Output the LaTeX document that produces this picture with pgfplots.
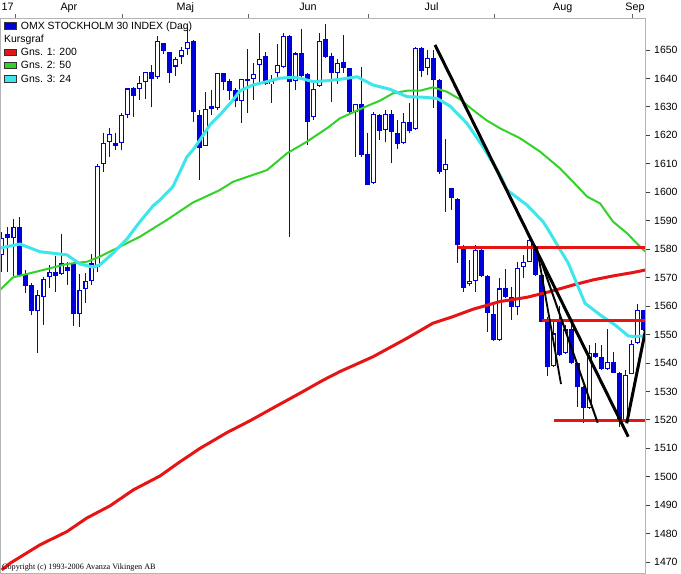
\documentclass[border=0pt]{standalone}
\usepackage{pgfplots}
\pgfplotsset{compat=1.18}
\usepackage{pgfplotstable}
\usepackage{fontspec}
\setmainfont{Liberation Sans}
\newfontfamily\serifcr{Liberation Serif}
\definecolor{cblue}{RGB}{0,0,220}
\definecolor{mared}{RGB}{230,20,20}
\definecolor{magreen}{RGB}{50,210,40}
\definecolor{macyan}{RGB}{60,230,235}
\definecolor{bordergray}{RGB}{180,180,180}

% up candles (close > open): hollow
\pgfplotstableread{
i o h l c
1 1578.0 1586.0 1572.0 1584.0
3 1583.8 1590.5 1570.6 1587.7
7 1558.4 1565.7 1543.6 1563.8
8 1563.1 1570.3 1553.4 1569.4
9 1570.1 1574.5 1566.3 1572.1
11 1571.2 1585.3 1570.9 1575.0
14 1557.1 1571.3 1552.5 1565.7
15 1565.9 1571.5 1561.0 1568.9
16 1568.8 1578.3 1567.4 1575.0
17 1573.9 1610.0 1572.0 1609.2
18 1609.8 1620.7 1607.3 1617.2
19 1617.6 1622.5 1612.5 1620.4
21 1617.2 1628.0 1614.9 1627.2
22 1627.2 1636.5 1626.0 1636.5
24 1636.2 1640.9 1632.4 1638.3
25 1638.6 1642.4 1632.7 1642.2
27 1640.4 1654.9 1639.8 1653.3
30 1644.2 1647.4 1640.9 1646.7
31 1647.7 1651.2 1645.1 1650.0
32 1650.2 1658.2 1648.2 1652.9
35 1616.4 1635.4 1616.2 1629.2
37 1629.5 1642.0 1628.9 1641.8
41 1632.1 1639.7 1624.2 1639.7
43 1639.7 1645.3 1632.4 1641.6
44 1644.6 1656.1 1638.5 1646.7
46 1637.9 1641.2 1631.3 1639.2
47 1641.9 1652.1 1640.6 1644.9
48 1644.1 1656.1 1643.6 1654.9
50 1639.2 1649.4 1636.1 1648.8
53 1626.4 1638.3 1625.5 1636.2
54 1637.4 1655.9 1637.1 1653.3
57 1642.0 1647.0 1638.0 1645.5
60 1628.3 1630.9 1612.3 1630.9
63 1603.2 1628.3 1603.0 1627.4
65 1621.9 1628.9 1617.8 1627.4
68 1617.2 1627.7 1617.0 1624.8
70 1622.1 1651.2 1621.9 1650.6
72 1643.6 1650.0 1641.2 1647.1
75 1607.8 1618.6 1593.2 1609.8
79 1567.7 1576.2 1567.0 1568.9
80 1568.9 1581.5 1565.1 1579.7
84 1548.1 1569.8 1547.9 1566.2
87 1559.8 1575.5 1557.0 1573.3
88 1573.6 1578.0 1570.0 1575.6
89 1575.6 1583.8 1575.4 1583.2
93 1538.9 1555.0 1538.7 1550.4
95 1543.4 1553.4 1543.2 1551.8
99 1524.1 1546.3 1523.9 1543.4
102 1537.8 1551.8 1537.6 1540.5
105 1520.0 1537.6 1519.8 1535.8
106 1536.2 1548.1 1536.0 1546.6
107 1546.9 1560.8 1546.7 1558.6
}\upc

% down candles (close < open): filled
\pgfplotstableread{
i o h l c
2 1585.2 1587.9 1572.1 1583.8
4 1587.7 1591.2 1570.3 1570.9
5 1570.9 1572.7 1564.5 1567.2
6 1567.4 1568.2 1556.9 1558.4
10 1572.0 1577.6 1565.1 1570.7
12 1573.6 1575.6 1567.4 1572.5
13 1574.8 1575.6 1553.1 1557.1
20 1617.2 1620.7 1614.9 1616.4
23 1636.5 1637.1 1626.6 1633.9
26 1642.2 1644.7 1630.1 1639.7
28 1652.3 1652.5 1648.5 1649.8
29 1649.2 1649.4 1638.3 1642.0
33 1653.2 1653.4 1624.8 1628.3
34 1627.2 1628.9 1604.3 1615.5
36 1630.3 1635.9 1627.2 1629.2
38 1641.8 1642.0 1636.1 1638.9
39 1639.1 1639.7 1632.4 1635.7
40 1635.9 1636.5 1630.1 1632.1
42 1639.7 1650.2 1627.7 1639.2
45 1647.9 1649.4 1637.7 1637.9
49 1654.9 1655.3 1584.4 1638.9
51 1649.1 1657.3 1640.5 1640.9
52 1641.6 1641.8 1616.6 1624.8
55 1653.8 1659.1 1647.1 1647.7
56 1647.9 1648.8 1631.8 1641.8
58 1645.9 1655.3 1641.8 1643.6
59 1643.6 1643.8 1627.5 1628.3
61 1630.9 1644.2 1612.5 1613.1
62 1613.3 1620.7 1602.4 1602.6
64 1627.2 1627.4 1618.4 1621.7
66 1627.4 1628.9 1610.2 1621.3
67 1620.9 1625.4 1615.1 1616.9
69 1624.8 1631.3 1620.9 1621.7
71 1650.6 1651.2 1640.6 1642.6
73 1647.1 1650.0 1629.5 1639.5
74 1639.5 1639.7 1606.5 1607.3
76 1601.4 1601.6 1593.8 1597.9
77 1597.5 1598.0 1575.0 1581.5
78 1581.1 1581.5 1565.0 1566.5
81 1579.7 1580.9 1570.4 1570.6
82 1570.6 1570.8 1551.0 1557.5
83 1557.2 1561.6 1547.9 1548.1
85 1566.2 1573.0 1562.9 1563.1
86 1563.1 1566.8 1555.1 1559.6
90 1580.9 1581.5 1570.7 1570.9
91 1570.9 1572.7 1554.3 1554.5
92 1554.5 1556.3 1535.5 1538.7
94 1554.5 1560.0 1542.6 1542.8
96 1551.8 1555.0 1539.7 1539.9
97 1539.9 1540.1 1524.7 1531.7
98 1531.7 1531.9 1519.0 1524.1
100 1543.4 1546.9 1541.8 1542.0
101 1542.0 1546.3 1537.6 1537.8
103 1540.5 1544.0 1536.4 1536.6
104 1536.6 1536.8 1517.6 1519.4
108 1558.6 1558.8 1551.4 1551.6
}\downc

\begin{document}
\begin{tikzpicture}
\path[use as bounding box] (-1bp,-1bp) rectangle (680bp,573bp);
\begin{axis}[
  at={(0,0)}, anchor=south west,
  scale only axis, width=644bp, height=554bp,
  xmin=0.883, xmax=108.22, ymin=1466.2, ymax=1660.9,
  clip mode=individual,
  axis line style={draw=bordergray, line width=1bp},
  xtick={3.38,21.2,42.2,62.2,83.2,106.2},
  xticklabels={,,,,,},
  xtick pos=right,
  ytick={1470,1480,...,1650},
  ytick pos=right, yticklabel pos=right,
  tick align=outside, major tick length=5bp,
  x tick style={draw=black!60, line width=1bp},
  y tick style={draw=black!75, line width=1bp},
  /pgf/number format/assume math mode=true,
  /pgf/number format/1000 sep={},
  yticklabel style={font=\fontsize{10.5}{12}\selectfont, anchor=west, inner sep=0pt, xshift=4bp},
]
% wicks
\addplot[draw=none, mark=none, forget plot, error bars/.cd, y dir=both, y explicit, error mark=none,
  error bar style={draw=cblue, line width=1.2bp}]
  table[x=i, y expr={(\thisrow{h}+\thisrow{l})/2}, y error expr={(\thisrow{h}-\thisrow{l})/2}] {\upc};
\addplot[draw=none, mark=none, forget plot, error bars/.cd, y dir=both, y explicit, error mark=none,
  error bar style={draw=cblue, line width=1.2bp}]
  table[x=i, y expr={(\thisrow{h}+\thisrow{l})/2}, y error expr={(\thisrow{h}-\thisrow{l})/2}] {\downc};
% bodies
\addplot[draw=none, mark=none, forget plot, error bars/.cd, y dir=both, y explicit, error mark=none,
  error bar style={draw=cblue, line width=4.6bp}]
  table[x=i, y expr={(\thisrow{o}+\thisrow{c})/2}, y error expr={(\thisrow{o}-\thisrow{c})/2}] {\downc};
\addplot[draw=none, mark=none, forget plot, error bars/.cd, y dir=both, y explicit, error mark=none,
  error bar style={draw=cblue, line width=4.6bp}]
  table[x=i, y expr={(\thisrow{o}+\thisrow{c})/2}, y error expr={(\thisrow{c}-\thisrow{o})/2}] {\upc};
\addplot[draw=none, mark=none, forget plot, error bars/.cd, y dir=both, y explicit, error mark=none,
  error bar style={draw=white, line width=2.4bp}]
  table[x=i, y expr={(\thisrow{o}+\thisrow{c})/2}, y error expr={max((\thisrow{c}-\thisrow{o})/2-0.386,0)}] {\upc};

% Gns. 1: 200
\addplot[mared, line width=3bp, line join=round] coordinates {
(1.0,1467.3) (2.38,1469.6) (7.38,1476.1) (11.83,1480.7) (15.17,1485.5) (19.05,1489.8)
(22.93,1495.4) (27.38,1500.3) (30.72,1505.3) (34.05,1510.0) (38.5,1515.5) (42.38,1519.7)
(46.83,1524.9) (50.72,1529.4) (54.6,1534.0) (57.38,1537.0) (62.88,1542.2) (68.55,1548.7)
(72.88,1554.0) (76.22,1556.3) (79.55,1558.9) (84.05,1561.6) (88.55,1563.1) (92.38,1565.1)
(96.22,1567.4) (99.55,1569.2) (102.88,1570.6) (106.22,1571.8) (108.3,1572.7)};
% Gns. 2: 50
\addplot[magreen, line width=2bp, line join=round] coordinates {
(0.72,1565.7) (2.88,1570.1) (6.22,1571.8) (11.88,1574.8) (15.22,1575.6) (17.38,1577.4)
(20.72,1580.9) (24.05,1584.4) (28.55,1590.3) (32.88,1596.4) (37.38,1600.8) (39.55,1603.7)
(45.22,1607.8) (48.55,1613.7) (51.88,1617.8) (55.22,1622.5) (57.38,1626.0) (61.88,1630.3)
(64.05,1632.2) (66.22,1634.8) (68.55,1635.7) (70.72,1635.7) (72.88,1636.9) (75.22,1635.3)
(77.38,1632.7) (79.55,1628.9) (81.88,1625.2) (84.05,1622.5) (87.38,1619.0) (90.72,1614.3)
(94.05,1608.4) (96.22,1603.7) (98.55,1598.5) (100.72,1596.1) (102.88,1589.7) (105.22,1585.6)
(107.38,1580.9) (108.3,1579.1)};
% Gns. 3: 24
\addplot[macyan, line width=3bp, line join=round] coordinates {
(0.72,1580.4) (4.05,1581.8) (7.38,1579.1) (11.88,1578.0) (14.05,1574.8) (16.22,1573.7)
(17.38,1574.5) (19.55,1578.6) (21.88,1583.6) (24.05,1589.7) (26.22,1595.2) (27.38,1597.3)
(29.55,1602.0) (31.88,1612.5) (32.88,1614.9) (34.05,1618.4) (35.72,1623.7) (37.38,1627.2)
(39.55,1632.4) (40.72,1635.7) (42.88,1637.7) (45.22,1638.9) (47.38,1640.1) (49.55,1640.4)
(50.72,1640.1) (52.88,1638.9) (55.22,1639.2) (57.38,1639.7) (60.22,1640.6) (62.88,1637.7)
(65.72,1636.2) (68.55,1633.6) (71.22,1633.4) (73.55,1633.0) (75.72,1630.3) (78.55,1624.2)
(81.22,1616.0) (84.05,1606.1) (85.22,1600.8) (88.55,1595.5) (91.22,1589.7) (92.1,1586.8)
(93.77,1580.9) (95.43,1575.1) (96.83,1568.0) (98.22,1561.0) (101.0,1556.5) (103.22,1553.4)
(105.43,1549.5) (106.55,1549.3) (107.93,1549.5) (108.3,1549.6)};

% horizontal levels
\addplot[mared, line width=3bp] coordinates {(77.1,1580.7) (108.3,1580.7)};
\addplot[mared, line width=3bp] coordinates {(91.0,1555.1) (108.3,1555.1)};
\addplot[mared, line width=3bp] coordinates {(93.1,1519.8) (108.3,1519.8)};
% trend lines
\addplot[black, line width=3bp] coordinates {(73.22,1651.8) (105.43,1514.1)};
\addplot[black, line width=1.8bp] coordinates {(90.17,1580.9) (94.22,1532.6)};
\addplot[black, line width=2bp] coordinates {(90.72,1576.9) (100.33,1519.0)};
\addplot[black, line width=3bp] coordinates {(105.17,1518.8) (108.3,1551.5)};

% month labels
\foreach \p/\t in {1.97/17,12.2/Apr,31.6/Maj,52.05/Jun,72.65/Jul,94.5/Aug,106.55/Sep}{
  \edef\tmp{\noexpand\node[anchor=base, inner sep=0pt, yshift=8bp, font=\noexpand\fontsize{10.8}{12}\noexpand\selectfont] at (axis cs:\p,1660.9) {\t};}
  \tmp
}
\end{axis}
% legend
\draw[black!80, line width=0.8bp, fill=cblue] (3bp,543.7bp) rectangle (15.7bp,550.3bp);
\node[anchor=base west, inner sep=0pt, font=\fontsize{10.5}{12}\selectfont] at (19.7bp,543.7bp) {OMX STOCKHOLM 30 INDEX (Dag)};
\node[anchor=base west, inner sep=0pt, font=\fontsize{10.5}{12}\selectfont] at (3bp,530.5bp) {Kursgraf};
\draw[black!80, line width=0.8bp, fill=mared] (3bp,517.3bp) rectangle (15.7bp,523.9bp);
\node[anchor=base west, inner sep=0pt, font=\fontsize{10.5}{12}\selectfont] at (19.7bp,517.3bp) {Gns. 1: 200};
\draw[black!80, line width=0.8bp, fill=magreen] (3bp,504.1bp) rectangle (15.7bp,510.7bp);
\node[anchor=base west, inner sep=0pt, font=\fontsize{10.5}{12}\selectfont] at (19.7bp,504.1bp) {Gns. 2: 50};
\draw[black!80, line width=0.8bp, fill=macyan] (3bp,490.9bp) rectangle (15.7bp,497.5bp);
\node[anchor=base west, inner sep=0pt, font=\fontsize{10.5}{12}\selectfont] at (19.7bp,490.9bp) {Gns. 3: 24};
% copyright
\node[anchor=base west, inner sep=0pt, font=\serifcr\fontsize{8.2}{9}\selectfont] at (1bp,3.5bp) {Copyright (c) 1993-2006 Avanza Vikingen AB};
\end{tikzpicture}
\end{document}
